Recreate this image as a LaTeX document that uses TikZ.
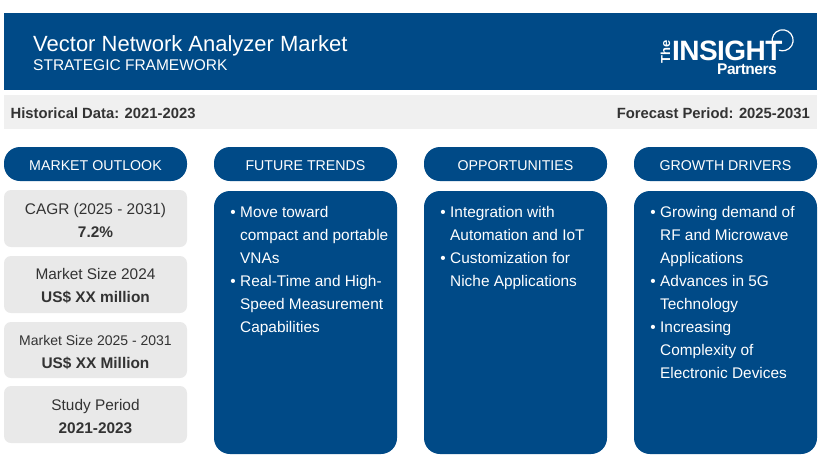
\documentclass[tikz,border=0pt]{standalone}
\usepackage{fontspec}
\setmainfont{Liberation Sans}
\usetikzlibrary{positioning,calc,shapes}
\definecolor{tipblue}{HTML}{004A87}
\definecolor{tipgrey}{HTML}{E9E9E9}
\definecolor{tipband}{HTML}{F0F0F0}
\definecolor{tiptext}{HTML}{333333}
\newcommand{\lineskp}[1]{\fontsize{#1}{23}\selectfont}
\newcommand{\bitem}{\llap{\textbullet\hspace{4.5pt}}}
\newcommand{\topstrut}{\rule{0pt}{15pt}}
\tikzset{
  pill/.style={fill=tipblue,text=white,rounded corners=16pt,minimum width=183pt,minimum height=34pt,inner sep=0pt,text height=12.5pt,text depth=0pt,font=\fontsize{14.2}{16}\selectfont},
  panel/.style={fill=tipblue,rounded corners=16pt,minimum width=183pt,minimum height=263pt,inner sep=0pt},
  statbox/.style={fill=tipgrey,text=tiptext,rounded corners=7pt,minimum width=183pt,inner sep=0pt,align=center},
  bullets/.style={text=white,align=left,anchor=north west,inner sep=0pt,font=\lineskp{15.4}},
  band/.style={text=tiptext,inner sep=0pt,font=\bfseries\fontsize{14.8}{16}\selectfont}
}
\begin{document}
\begin{tikzpicture}[x=1pt,y=-1pt]
\useasboundingbox (0,0) rectangle (831,475);
% header
\node [fill=tipblue,minimum width=813pt,minimum height=77pt,inner sep=0pt,anchor=north west] (head) at (4,13) {};
\node [text=white,inner sep=0pt,anchor=base west,font=\fontsize{22}{24}\selectfont] (title) at (33,51.2) {Vector Network Analyzer Market};
\node [text=white,inner sep=0pt,anchor=base west,font=\fontsize{15.5}{18}\selectfont] (subtitle) at (33,70.3) {STRATEGIC FRAMEWORK};
% logo
\node [text=white,inner sep=0pt,text depth=0pt,anchor=base west,font=\bfseries\fontsize{28}{29}\selectfont] (insight) at (672,60) {\addfontfeature{LetterSpace=-2}INSIGHT};
\node [text=white,inner sep=0pt,anchor=base,rotate=90,font=\bfseries\fontsize{13}{14}\selectfont] (the) at (670,51.5) {The};
\node [text=white,inner sep=0pt,text height=10.5pt,anchor=base east,font=\bfseries\fontsize{15.5}{16}\selectfont] (partners) at (777,74) {\addfontfeature{LetterSpace=-3}Partners};
\coordinate (ringa) at (772.5,43);
\draw [white,line width=1.2pt] (ringa) arc[start angle=195,end angle=-110,radius=10.5pt];
% dates
\node [fill=tipband,minimum width=813pt,minimum height=34pt,inner sep=0pt,anchor=north west] (dates) at (4,95) {};
\node [band,anchor=base west] (hist) at (10.5,118.2) {Historical Data: 2021-2023};
\node [band,anchor=base east] (fore) at (810,118.2) {Forecast Period: 2025-2031};
% column heads
\node [pill] (outlook) at (95.5,164) {MARKET OUTLOOK};
\node [pill] (trends) at (305.5,164) {FUTURE TRENDS};
\node [pill] (opps) at (515.5,164) {OPPORTUNITIES};
\node [pill] (drivers) at (725.5,164) {GROWTH DRIVERS};
% left column
\node [statbox,minimum height=57pt,font=\lineskp{15.4}] (cagr) at (95.5,218.5) {\topstrut CAGR (2025 - 2031)\\\textbf{7.2\%}};
\node [statbox,minimum height=57pt,font=\lineskp{15.4}] (size) at (95.5,284.5) {\topstrut Market Size 2024\\\textbf{US\$ XX million}};
\node [statbox,minimum height=56pt,font=\lineskp{14}] (sizeb) at (95.5,350) {\topstrut Market Size 2025 - 2031\\\textbf{\fontsize{15.4}{23}\selectfont US\$ XX Million}};
\node [statbox,minimum height=57pt,font=\lineskp{15.4}] (study) at (95.5,414.5) {\topstrut Study Period\\\textbf{2021-2023}};
% panels
\node [panel] (ptrends) at (305.5,322.5) {};
\node [panel] (popps) at (515.5,322.5) {};
\node [panel] (pdrivers) at (725.5,322.5) {};
\node [bullets] (ttext) at (240,205.8) {\bitem Move toward\\compact and portable\\VNAs\\\bitem Real-Time and High-\\Speed Measurement\\Capabilities};
\node [bullets] (otext) at (450,205.8) {\bitem Integration with\\Automation and IoT\\\bitem Customization for\\Niche Applications};
\node [bullets] (dtext) at (660,205.8) {\bitem Growing demand of\\RF and Microwave\\Applications\\\bitem Advances in 5G\\Technology\\\bitem Increasing\\Complexity of\\Electronic Devices};
\end{tikzpicture}
\end{document}
